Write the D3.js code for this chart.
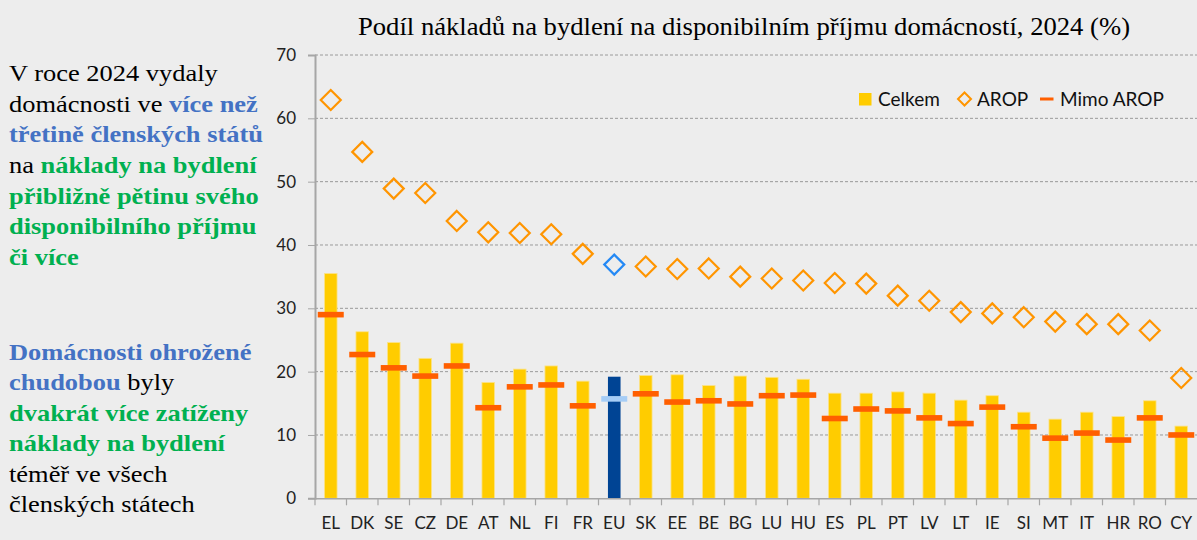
<!DOCTYPE html>
<html><head><meta charset="utf-8">
<script src="https://cdn.jsdelivr.net/npm/d3@7"></script>
<style>
html,body{margin:0;padding:0;background:#ededed;}
svg{display:block;}
</style></head>
<body>
<svg id="c" width="1197" height="540"></svg>
<script>
const categories = ["EL","DK","SE","CZ","DE","AT","NL","FI","FR","EU","SK","EE","BE","BG","LU","HU","ES","PL","PT","LV","LT","IE","SI","MT","IT","HR","RO","CY"];
const celkem = [35.5,26.3,24.6,22.1,24.5,18.3,20.4,20.9,18.5,19.2,19.4,19.5,17.8,19.3,19.1,18.8,16.6,16.6,16.8,16.6,15.5,16.2,13.6,12.5,13.6,12.9,15.4,11.4];
const arop = [62.9,54.7,48.9,48.2,43.8,42.0,41.9,41.7,38.6,36.9,36.6,36.2,36.3,35.0,34.7,34.4,34.0,33.9,32.0,31.2,29.4,29.2,28.6,27.9,27.5,27.5,26.5,19.0];
const mimoArop = [29.0,22.7,20.6,19.3,20.9,14.3,17.6,17.9,14.6,15.7,16.5,15.2,15.4,14.9,16.2,16.3,12.6,14.1,13.8,12.7,11.8,14.4,11.3,9.5,10.3,9.2,12.7,10.0];
const yTicks = [0,10,20,30,40,50,60,70];
const title = "Podíl nákladů na bydlení na disponibilním příjmu domácností, 2024 (%)";
const legendLabels = ["Celkem","AROP","Mimo AROP"];
const highlight = "EU";

const textBlock1 = [
  [["V roce 2024 vydaly","k",false]],
  [["domácnosti ve ","k",false],["více než","b",true]],
  [["třetině členských států","b",true]],
  [["na ","k",false],["náklady na bydlení","g",true]],
  [["přibližně pětinu svého","g",true]],
  [["disponibilního příjmu","g",true]],
  [["či více","g",true]]
];
const textBlock2 = [
  [["Domácnosti ohrožené","b",true]],
  [["chudobou","b",true],[" byly","k",false]],
  [["dvakrát více zatíženy","g",true]],
  [["náklady na bydlení","g",true]],
  [["téměř ve všech","k",false]],
  [["členských státech","k",false]]
];

const svg = d3.select("#c");
const colors = {k:"#000000", b:"#4472C4", g:"#00B050"};
const serif = "'Liberation Serif','Times New Roman',serif";
const sans = "Lato,'Open Sans',sans-serif";
const m = {left:315, right:1197, top:55, bottom:498.3};

const x = d3.scaleBand().domain(categories).range([m.left, m.right]).padding(0);
const y = d3.scaleLinear().domain([0,70]).range([m.bottom, m.top]);

// title
svg.append("text").attr("x", 744).attr("y", 35).attr("text-anchor","middle")
  .attr("font-family",serif).attr("font-size",25)
  .attr("textLength",772).attr("lengthAdjust","spacingAndGlyphs")
  .attr("fill","#000").text(title);

// left text
function drawBlock(lines, y0, dy){
  const g = svg.append("g").attr("transform","translate(9,0) scale(1.15,1)");
  lines.forEach((ln,i)=>{
    const t = g.append("text").attr("x",0).attr("y", y0 + i*dy)
      .attr("font-family",serif).attr("font-size",23);
    ln.forEach(([s,c,b])=>{
      t.append("tspan").attr("fill",colors[c]).attr("font-weight", b?"bold":"normal").text(s);
    });
  });
}
drawBlock(textBlock1, 81, 30.7);
drawBlock(textBlock2, 360, 30.5);

// gridlines
svg.append("g").selectAll("line").data(yTicks.filter(d=>d>0)).join("line")
  .attr("x1", m.left).attr("x2", m.right)
  .attr("y1", d=>y(d)).attr("y2", d=>y(d))
  .attr("stroke","#9a9a9a").attr("stroke-width",1).attr("stroke-dasharray","3,2");

// y axis
const yAxis = d3.axisLeft(y).tickValues(yTicks).tickSize(7).tickPadding(12).tickFormat(d3.format("d"));
const gy = svg.append("g").attr("transform",`translate(${m.left},0)`).call(yAxis);
gy.select(".domain").attr("stroke","#a6a6a6").attr("stroke-width",2);
gy.selectAll(".tick line").attr("stroke","#a6a6a6");
gy.selectAll(".tick text").attr("font-family",sans).attr("font-size",17).attr("fill","#222");

// bars
svg.append("g").selectAll("rect").data(categories).join("rect")
  .attr("x", d=>x(d)+x.bandwidth()/2-6.3)
  .attr("width",12.6)
  .attr("y", (d,i)=>y(celkem[i]))
  .attr("height",(d,i)=>y(0)-y(celkem[i]))
  .attr("fill", d=> d===highlight ? "#004494" : "#FFCC00")
  .attr("stroke", d=> d===highlight ? "none" : "#fbe38a").attr("stroke-width",0.8);

// x axis
const xAxis = d3.axisBottom(x).tickSize(0).tickPadding(19);
const gx = svg.append("g").attr("transform",`translate(0,${m.bottom})`).call(xAxis);
gx.select(".domain").attr("stroke","#a6a6a6").attr("stroke-width",1.5);
gx.selectAll(".tick text").attr("font-family",sans).attr("font-size",17).attr("fill","#222");
// category boundary ticks
svg.append("g").selectAll("line").data(categories).join("line")
  .attr("x1", d=>x(d)).attr("x2", d=>x(d))
  .attr("y1", m.bottom).attr("y2", m.bottom+7)
  .attr("stroke","#a6a6a6").attr("stroke-width",1.2);

// mimo AROP dashes
svg.append("g").selectAll("rect").data(categories).join("rect")
  .attr("x", d=>x(d)+x.bandwidth()/2-13)
  .attr("width",26)
  .attr("y",(d,i)=>y(mimoArop[i])-2.8)
  .attr("height",5.6)
  .attr("fill", d=> d===highlight ? "#a6cdf6" : "#FF5F00");

// AROP diamonds
const dsz = 10;
svg.append("g").selectAll("path").data(categories).join("path")
  .attr("d",(d,i)=>{
    const cx = x(d)+x.bandwidth()/2, cy = y(arop[i]);
    return `M${cx},${cy-dsz}L${cx+dsz},${cy}L${cx},${cy+dsz}L${cx-dsz},${cy}Z`;
  })
  .attr("fill","none")
  .attr("stroke", d=> d===highlight ? "#2489f5" : "#FF9500")
  .attr("stroke-width",2.2);

// legend
const lg = svg.append("g");
lg.append("rect").attr("x",859).attr("y",93).attr("width",12.5).attr("height",12.5).attr("fill","#FFCC00");
lg.append("text").attr("x",878).attr("y",106).attr("font-family",sans).attr("font-size",19).attr("fill","#111").text(legendLabels[0]);
lg.append("path").attr("d","M964.5,92.5L971,99L964.5,105.5L958,99Z").attr("fill","none").attr("stroke","#FF9500").attr("stroke-width",2);
lg.append("text").attr("x",977).attr("y",106).attr("font-family",sans).attr("font-size",19).attr("fill","#111").text(legendLabels[1]);
lg.append("rect").attr("x",1040).attr("y",97.5).attr("width",13.5).attr("height",3).attr("fill","#FF5F00");
lg.append("text").attr("x",1060).attr("y",106).attr("font-family",sans).attr("font-size",19).attr("fill","#111").text(legendLabels[2]);
</script>
</body></html>
